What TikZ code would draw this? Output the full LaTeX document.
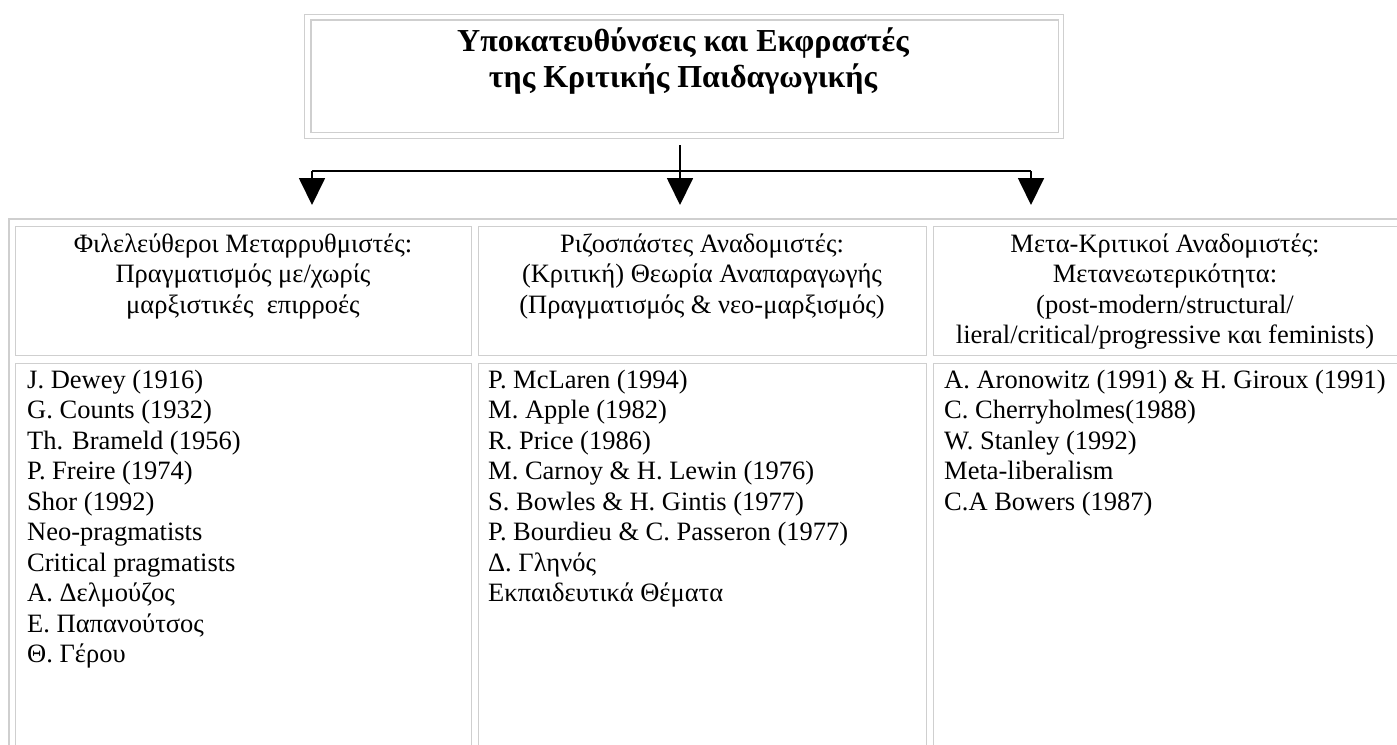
\documentclass[tikz,border=0pt]{standalone}
\usepackage{fontspec}
\setmainfont{Liberation Serif}
\usetikzlibrary{arrows.meta}
\begin{document}
\begin{tikzpicture}[x=1pt,y=-1pt,
  cellborder/.style={draw=gray!38, line width=1.4pt},
  cellbox/.style={cellborder, inner sep=0pt, anchor=north west},
  celltext/.style={inner sep=0pt, font=\fontsize{26.5}{30.5}\selectfont},
  titletext/.style={inner sep=0pt, font=\fontsize{32}{36}\selectfont\bfseries, align=center},
  conn/.style={line width=1.8pt},
  arr/.style={line width=1.8pt, -{Triangle[width=26pt,length=27pt]}}]
\useasboundingbox (0,0) rectangle (1397,744);
\fill[white] (0,0) rectangle (1397,744);

% title box
\node[cellbox, minimum width=759pt, minimum height=124pt] (title) at (304,14) {};
\draw[cellborder] ([shift={(7,6)}]title.north west) rectangle ([shift={(-6,-7)}]title.south east);
\node[titletext, anchor=north] (titlet) at (683,51-25.2) {\strut Υποκατευθύνσεις και Εκφραστές\\ της Κριτικής Παιδαγωγικής};

% table
\begin{scope}
\clip (0,0) rectangle (1397,744);
\draw[cellborder] (9,219) rectangle (1430,770);
\node[cellbox, minimum width=456pt, minimum height=129pt] (h1) at (15,226) {};
\node[cellbox, minimum width=448pt, minimum height=129pt] (h2) at (478,226) {};
\node[cellbox, minimum width=480pt, minimum height=129pt] (h3) at (933,226) {};
\node[cellbox, minimum width=456pt, minimum height=400pt] (b1) at (15,363) {};
\node[cellbox, minimum width=448pt, minimum height=400pt] (b2) at (478,363) {};
\node[cellbox, minimum width=480pt, minimum height=400pt] (b3) at (933,363) {};
\end{scope}

% header texts
\node[celltext, align=center, anchor=north] (h1t) at (243,252-21.35) {\strut Φιλελεύθεροι Μεταρρυθμιστές:\\Πραγματισμός με/χωρίς\\μαρξιστικές\ \ επιρροές};
\node[celltext, align=center, anchor=north] (h2t) at (702,252-21.35) {\strut Ριζοσπάστες Αναδομιστές:\\(Κριτική) Θεωρία Αναπαραγωγής\\(Πραγματισμός \& νεο-μαρξισμός)};
\node[celltext, align=center, anchor=north] (h3t) at (1165,252-21.35) {\strut Μετα-Κριτικοί Αναδομιστές:\\Μετανεωτερικότητα:\\(post-modern/structural/\\lieral/critical/progressive και feminists)};

% body texts
\node[celltext, align=left, anchor=north west] (b1t) at (27,388-21.35) {\strut J. Dewey (1916)\\G. Counts (1932)\\Th. Brameld (1956)\\P. Freire (1974)\\Shor (1992)\\Neo-pragmatists\\Critical pragmatists\\Α. Δελμούζος\\Ε. Παπανούτσος\\Θ. Γέρου};
\node[celltext, align=left, anchor=north west] (b2t) at (488,388-21.35) {\strut P. McLaren (1994)\\M. Apple (1982)\\R. Price (1986)\\M. Carnoy \& H. Lewin (1976)\\S. Bowles \& H. Gintis (1977)\\P. Bourdieu \& C. Passeron (1977)\\Δ. Γληνός\\Εκπαιδευτικά Θέματα};
\node[celltext, align=left, anchor=north west] (b3t) at (944,388-21.35) {\strut A. Aronowitz (1991) \& H. Giroux (1991)\\C. Cherryholmes(1988)\\W. Stanley (1992)\\Meta-liberalism\\C.A Bowers (1987)};

% connectors
\coordinate (ts) at (680,145);
\coordinate (lc) at (312,171);
\coordinate (rc) at (1031,171);
\coordinate (t1) at (312,205);
\coordinate (t2) at (680,205);
\coordinate (t3) at (1031,205);
\draw[conn] (lc) -- (rc);
\draw[arr] (ts) -- (t2);
\draw[arr] (lc) -- (t1);
\draw[arr] (rc) -- (t3);
\end{tikzpicture}
\end{document}
